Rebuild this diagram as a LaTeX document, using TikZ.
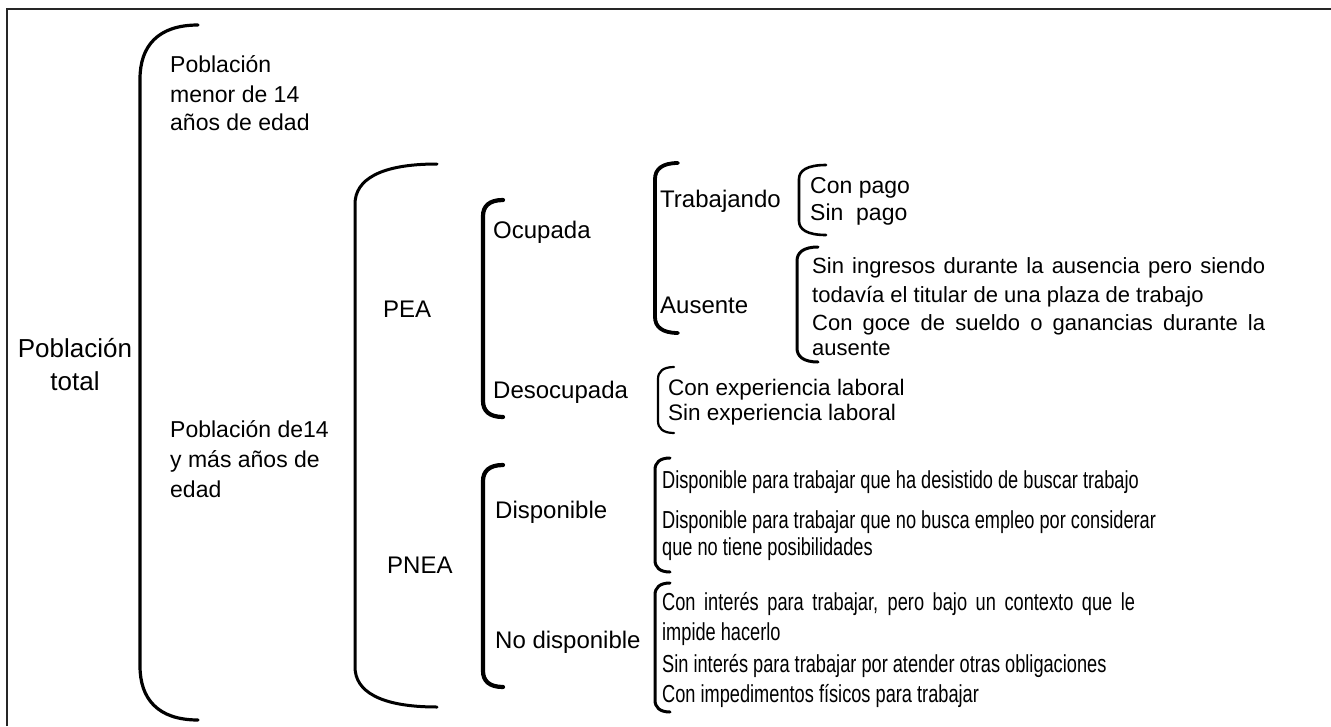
\documentclass[tikz,border=0pt]{standalone}
\usepackage{fontspec}
\setmainfont{Liberation Sans}
\newfontfamily\narrowfont[FakeStretch=0.74]{Liberation Sans}
\newcommand{\brak}[6]{%
  \draw[line width=#6, line cap=round] (#2,#3) .. controls ({#1+0.3*(#2-#1)},#3) and (#1,{#3+0.4*#5}) .. (#1,{#3+#5}) -- (#1,{#4-#5}) .. controls (#1,{#4-0.4*#5}) and ({#1+0.3*(#2-#1)},#4) .. (#2,#4);}
\begin{document}
\begin{tikzpicture}[x=1pt,y=-1pt,
  lbl/.style={inner sep=0pt, anchor=base west, font=\fontsize{23}{28}\selectfont},
  lblb/.style={inner sep=0pt, anchor=base west, font=\fontsize{24}{29}\selectfont},
  lblc/.style={inner sep=0pt, anchor=base, font=\fontsize{26}{33}\selectfont},
  lbls/.style={inner sep=0pt, anchor=base west, font=\fontsize{22}{27}\selectfont},
  lbln/.style={inner sep=0pt, anchor=base west, font=\narrowfont\fontsize{24.6}{29}\selectfont},
  frame/.style={line width=1.4pt, draw=black!85}]
\useasboundingbox (0,0) rectangle (1331,726);
\draw[frame] (7,726) -- (7,9) -- (1331,9);

% brackets
\brak{140}{198}{25}{720}{54}{3.2pt}
\brak{355}{437}{164}{707}{40}{3pt}
\brak{483}{503}{200}{417}{16}{4.2pt}
\brak{483}{503}{465}{687}{16}{4.2pt}
\brak{655}{678}{163}{333}{16}{3.8pt}
\brak{799}{826}{165}{235}{14}{2.6pt}
\brak{797}{818}{247}{362}{14}{3pt}
\brak{658}{674}{367}{433}{12}{2.2pt}
\brak{655}{670}{458}{572}{12}{3pt}
\brak{655}{670}{583}{712}{12}{3pt}

% level 0
\node[lblc] (pt1) at (75,357) {Población};
\node[lblc] (pt2) at (75,390) {total};

% level 1
\node[lbl] (pm1) at (170,72) {Población};
\node[lbl] (pm2) at (170,102) {menor de 14};
\node[lbl] (pm3) at (170,130) {años de edad};
\node[lbl] (pd1) at (170,437) {Población de14};
\node[lbl] (pd2) at (170,467) {y más años de};
\node[lbl] (pd3) at (170,497) {edad};

% level 2
\node[lblb] (pea) at (383,317) {PEA};
\node[lblb] (pnea) at (387,573) {PNEA};

% level 3
\node[lblb] (ocu) at (493,238) {Ocupada};
\node[lblb] (deso) at (493,398) {Desocupada};
\node[lblb] (disp) at (495,518) {Disponible};
\node[lblb] (nodisp) at (495,648) {No disponible};

% level 4
\node[lblb] (trab) at (660,207) {Trabajando};
\node[lblb] (aus) at (660,313) {Ausente};

\node[lbl] (cp) at (810,193) {Con pago};
\node[lbl] (sp) at (810,220) {Sin\ \ pago};

\node[lbls] (a1) at (812,273) {\makebox[453pt][s]{Sin ingresos durante la ausencia pero siendo}};
\node[lbls] (a2) at (812,302) {todavía el titular de una plaza de trabajo};
\node[lbls] (a3) at (812,330) {\makebox[453pt][s]{Con goce de sueldo o ganancias durante la}};
\node[lbls] (a4) at (812,355) {ausente};

\node[lbls,font=\fontsize{22.5}{27}\selectfont] (ce) at (668,395) {Con experiencia laboral};
\node[lbls,font=\fontsize{22.5}{27}\selectfont] (se) at (668,420) {Sin experiencia laboral};

\node[lbln] (d1) at (662,488) {Disponible para trabajar que ha desistido de buscar trabajo};
\node[lbln] (d2) at (662,528) {Disponible para trabajar que no busca empleo por considerar};
\node[lbln] (d3) at (662,555) {que no tiene posibilidades};

\node[lbln] (n1) at (662,610) {\makebox[473pt][s]{Con interés para trabajar, pero bajo un contexto que le}};
\node[lbln] (n2) at (662,640) {impide hacerlo};
\node[lbln] (n3) at (662,672) {Sin interés para trabajar por atender otras obligaciones};
\node[lbln] (n4) at (662,702) {Con impedimentos físicos para trabajar};
\end{tikzpicture}
\end{document}
